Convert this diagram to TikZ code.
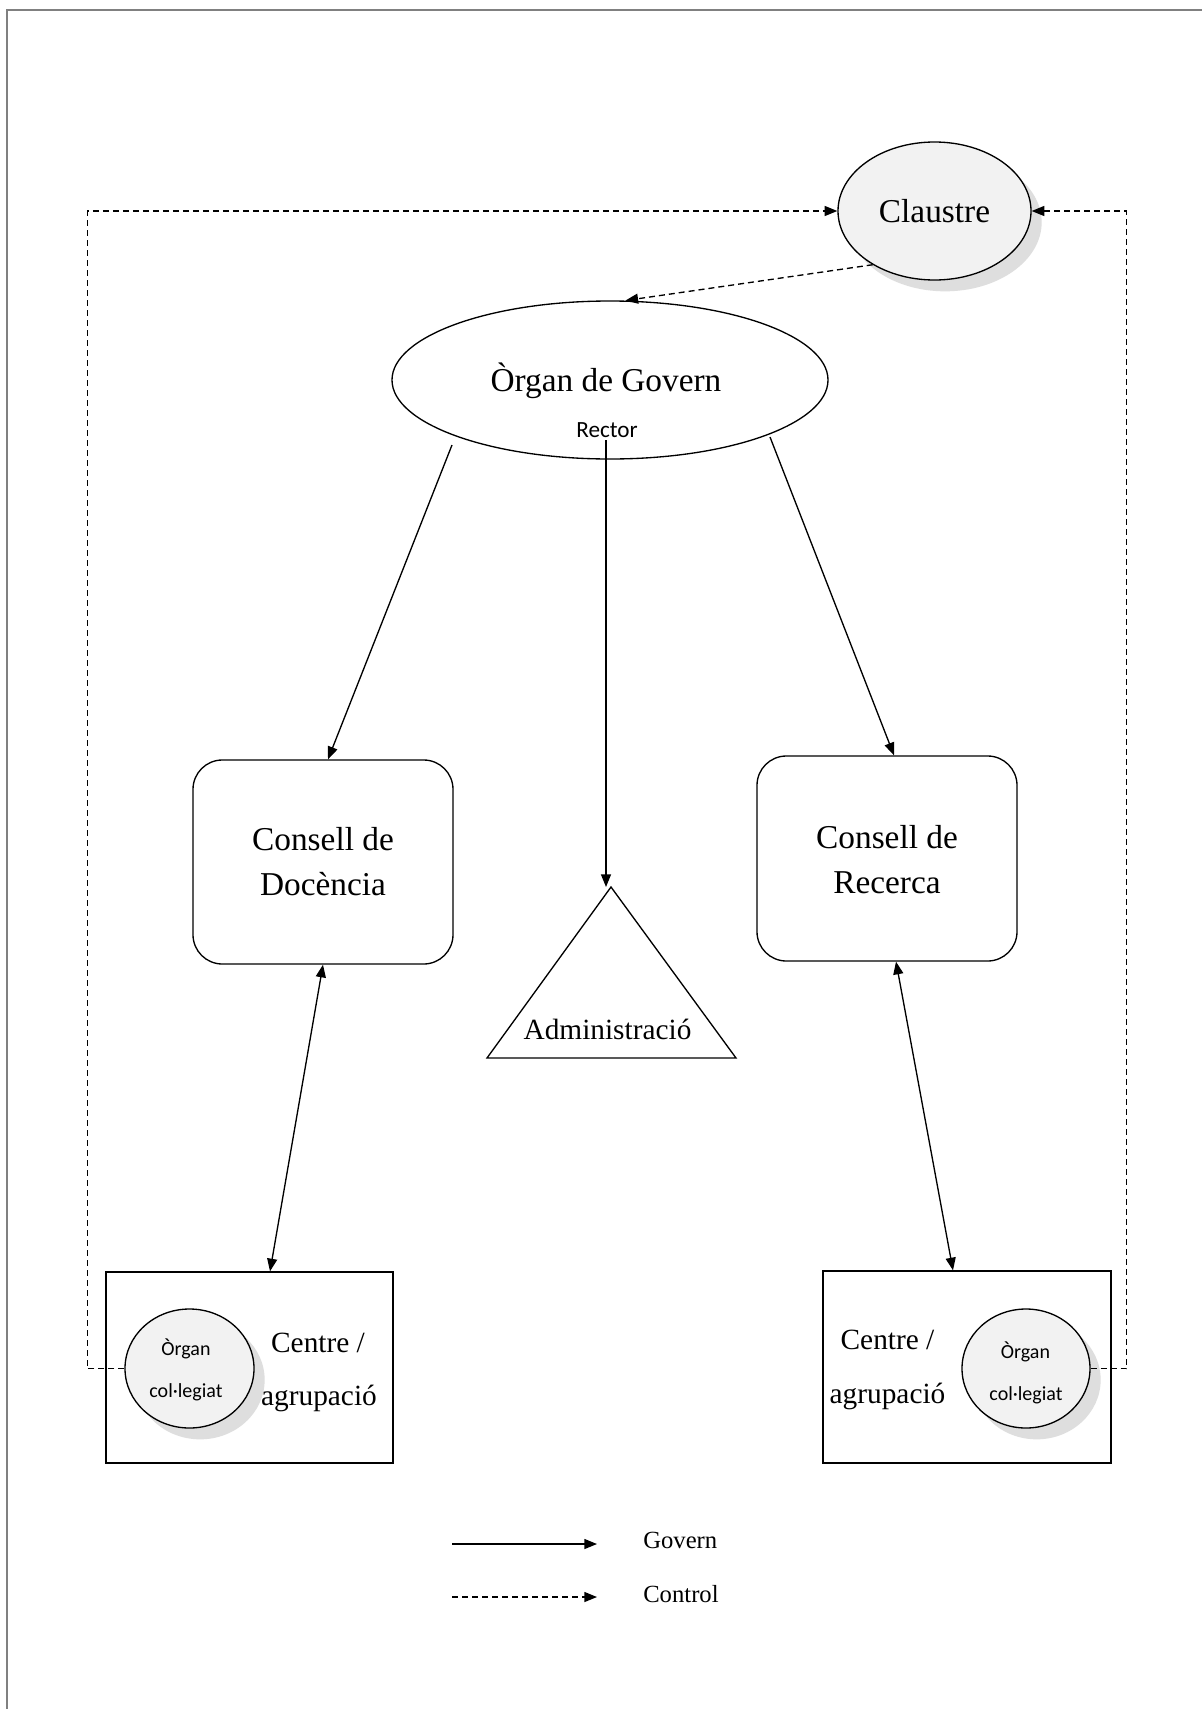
\documentclass[tikz,border=0pt]{standalone}
\usepackage{fontspec}
\setmainfont{Liberation Serif}
\newfontfamily\sansc{Carlito}
\usetikzlibrary{arrows.meta,shapes.geometric,calc,shadows}
\definecolor{nodefill}{HTML}{F2F2F2}
\definecolor{shadowc}{HTML}{DEDEDE}
\definecolor{framec}{HTML}{808080}
\begin{document}
\begin{tikzpicture}[x=0.75pt,y=-0.75pt,
  gov/.style={line width=1pt,-{Triangle[length=9.5pt,width=7.5pt]}},
  ctl/.style={gov,dash pattern=on 4.5pt off 3pt},
  dbl/.style={line width=1pt,{Triangle[length=9.5pt,width=7.5pt]}-{Triangle[length=9.5pt,width=7.5pt]}},
  shad/.style={drop shadow={shadow xshift=8pt,shadow yshift=-8.5pt,fill=shadowc,opacity=1}},
  ell/.style={ellipse,draw,line width=1pt,inner sep=0pt},
  box/.style={rectangle,draw,line width=1pt,inner sep=0pt},
  big/.style={anchor=base,inner sep=0pt,font=\fontsize{25}{30}\selectfont},
  mid/.style={anchor=base,inner sep=0pt,font=\fontsize{22}{26}\selectfont},
  leg/.style={anchor=base west,inner sep=0pt,font=\fontsize{18.5}{22}\selectfont},
  sml/.style={anchor=base,inner sep=0pt,font=\sansc\fontsize{15}{18}\selectfont},
  rec/.style={anchor=base,inner sep=0pt,font=\sansc\fontsize{17.4}{20}\selectfont}]
\useasboundingbox (0,0) rectangle (1202,1709);
\fill[white] (0,0) rectangle (1202,1709);
% page frame (top and left only)
\draw[framec,line width=1.5pt] (7,1709) -- (7,10) -- (1202,10);

% Claustre
\node[ell,shad,fill=nodefill,minimum width=144.75pt,minimum height=103.5pt,
  font=\fontsize{25}{30}\selectfont] (claustre) at (934.5,211) {Claustre};

% Organ de Govern
\node[ell,fill=white,minimum width=327pt,minimum height=118.5pt] (govern) at (610,380) {};
\node[big] (governtxt) at (606,391) {Òrgan de Govern};
\node[rec] (rector) at (607,437) {Rector};

% Consells
\node[box,rounded corners=22pt,minimum width=195pt,minimum height=153pt] (docencia) at (323,862) {};
\node[big] (doc1) at (323,850) {Consell de};
\node[big] (doc2) at (323,895) {Docència};
\node[box,rounded corners=22pt,minimum width=195pt,minimum height=153.75pt] (recerca) at (887,858.5) {};
\node[big] (rec1) at (887,848) {Consell de};
\node[big] (rec2) at (887,893) {Recerca};

% Administracio triangle
\coordinate (apex) at (611,887);
\coordinate (baseR) at (736,1058);
\coordinate (baseL) at (487,1058);
\draw[line width=1pt] (apex) -- (baseR) -- (baseL) -- cycle;
\node[mid] (admin) at (607.5,1039) {Administració};

% Centre boxes
\node[box,minimum width=215.25pt,minimum height=143.25pt] (centreL) at (249.5,1367.5) {};
\node[ell,shad,fill=nodefill,minimum width=96.75pt,minimum height=89.25pt] (orgL) at (189.5,1368.5) {};
\node[sml] (orgL1) at (186,1355) {Òrgan};
\node[sml] (orgL2) at (186,1397) {col·legiat};
\node[mid] (cenL1) at (318,1352) {Centre /};
\node[mid] (cenL2) at (319,1405) {agrupació};

\node[box,minimum width=216pt,minimum height=144pt] (centreR) at (967,1367) {};
\node[ell,shad,fill=nodefill,minimum width=96pt,minimum height=89.25pt] (orgR) at (1026,1368.5) {};
\node[sml] (orgR1) at (1025.5,1358) {Òrgan};
\node[sml] (orgR2) at (1026,1400) {col·legiat};
\node[mid] (cenR1) at (887.5,1349) {Centre /};
\node[mid] (cenR2) at (887.5,1403) {agrupació};

% Govern connectors
\coordinate (gL) at (452,445);
\coordinate (gR) at (770,437);
\coordinate (rstart) at ($(rector.base)+(-1,3)$);
\draw[gov] (gL) -- ($(docencia.north)+(5,0)$);
\draw[gov] (gR) -- ($(recerca.north)+(7,0)$);
\draw[gov] (rstart) -- (rstart |- apex);

% double arrows
\draw[dbl] (docencia.south) -- ($(centreL.north)+(20.5,0)$);
\draw[dbl] ($(recerca.south)+(9,0)$) -- ($(centreR.north)+(-14,0)$);

% Control connectors
\draw[ctl] (orgL.west) -- ++(-37,0) |- (claustre.west);
\draw[ctl] (orgR.east) -- ++(36,0) |- (claustre.east);
\draw[ctl] (claustre.221) -- (govern.79);

% Legend
\coordinate (lg1) at (452,1544);
\coordinate (lg2) at (597,1544);
\coordinate (lc1) at (452,1597);
\coordinate (lc2) at (597,1597);
\draw[gov] (lg1) -- (lg2);
\draw[ctl] (lc1) -- (lc2);
\node[leg] (legGov) at (643,1548) {Govern};
\node[leg] (legCtl) at (643,1602) {Control};
\end{tikzpicture}
\end{document}
